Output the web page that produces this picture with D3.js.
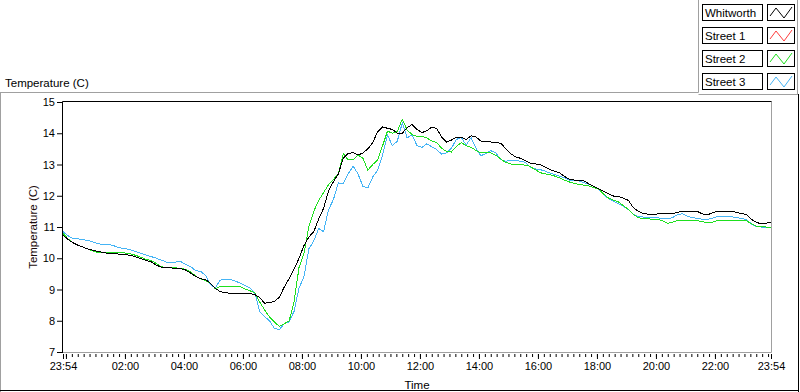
<!DOCTYPE html>
<html>
<head>
<meta charset="utf-8">
<script src="https://cdn.jsdelivr.net/npm/d3@7"></script>
<style>
  body { margin: 0; background: #fff; }
  svg { display: block; font-family: "Liberation Sans", Arial, sans-serif; }
</style>
</head>
<body>
<svg id="chart" width="800" height="392"></svg>
<script>
// minutes after the 23:54 start, one sample every 10 minutes
const offsetsMin = [
  0,10,20,30,40,50,60,70,80,90,100,110,120,130,140,150,160,170,180,190,
  200,210,220,230,240,250,260,270,280,290,300,310,320,330,340,350,360,370,380,390,
  400,410,420,430,440,450,460,470,480,490,500,510,520,530,540,550,560,570,580,590,
  600,610,620,630,640,650,660,670,680,690,700,710,720,730,740,750,760,770,780,790,
  800,810,820,830,840,850,860,870,880,890,900,910,920,930,940,950,960,970,980,990,
  1000,1010,1020,1030,1040,1050,1060,1070,1080,1090,1100,1110,1120,1130,1140,1150,1160,1170,1180,1190,
  1200,1210,1220,1230,1240,1250,1260,1270,1280,1290,1300,1310,1320,1330,1340,1350,1360,1370,1380,1390,
  1400,1410,1420,1430,1440
];

const whitworth = [
  10.75,10.6,10.5,10.42,10.36,10.3,10.26,10.22,10.19,10.16,
  10.15,10.14,10.12,10.11,10.08,10.03,9.98,9.93,9.88,9.78,
  9.71,9.7,9.69,9.68,9.67,9.62,9.52,9.42,9.34,9.32,
  9.2,9.03,8.93,8.9,8.88,8.87,8.87,8.87,8.87,8.84,
  8.74,8.56,8.58,8.62,8.75,9.08,9.35,9.65,10.0,10.4,
  10.68,10.85,11.25,11.6,12.15,12.45,12.7,13.2,13.35,13.38,
  13.3,13.37,13.5,13.7,14.05,14.2,14.16,14.12,14.0,14.0,
  14.18,14.28,14.12,14.02,14.08,14.2,14.15,13.88,13.72,13.78,
  13.88,13.88,13.8,13.92,13.88,13.75,13.75,13.72,13.7,13.68,
  13.52,13.35,13.25,13.2,13.13,13.05,13.02,13.0,12.92,12.84,
  12.78,12.73,12.62,12.53,12.5,12.5,12.47,12.38,12.3,12.22,
  12.14,12.06,11.99,11.97,11.92,11.85,11.62,11.5,11.43,11.41,
  11.4,11.42,11.43,11.42,11.42,11.47,11.5,11.5,11.5,11.5,
  11.42,11.38,11.45,11.5,11.5,11.5,11.5,11.47,11.43,11.4,
  11.25,11.15,11.1,11.12,11.15
];

// Street 1 logged nothing on this day
const street1 = [];

const street2 = [
  10.8,10.62,10.5,10.42,10.36,10.3,10.24,10.19,10.19,10.19,
  10.19,10.19,10.18,10.16,10.13,10.08,10.02,9.96,9.92,9.83,
  9.73,9.69,9.69,9.69,9.68,9.64,9.57,9.42,9.34,9.29,
  9.2,9.02,9.1,9.1,9.1,9.1,9.09,9.02,8.96,8.9,
  8.6,8.35,8.12,7.96,7.82,7.9,8.0,8.6,9.7,10.15,
  11.0,11.5,11.85,12.1,12.35,12.52,12.7,13.35,13.15,13.15,
  13.3,13.2,12.82,13.0,13.15,13.6,14.07,14.0,14.05,14.45,
  14.1,13.96,13.9,13.9,13.85,13.75,13.7,13.52,13.42,13.4,
  13.58,13.7,13.6,13.55,13.45,13.37,13.37,13.37,13.3,13.18,
  13.07,13.02,13.0,13.0,12.98,12.94,12.84,12.74,12.7,12.68,
  12.63,12.57,12.5,12.44,12.4,12.36,12.34,12.31,12.26,12.21,
  12.05,11.92,11.86,11.8,11.68,11.56,11.4,11.3,11.27,11.26,
  11.25,11.24,11.2,11.12,11.16,11.21,11.21,11.21,11.21,11.2,
  11.17,11.14,11.15,11.2,11.21,11.21,11.21,11.21,11.21,11.21,
  11.1,11.03,11.02,11.0,11.0
];

const street3 = [
  10.85,10.72,10.64,10.62,10.6,10.57,10.53,10.47,10.44,10.44,
  10.42,10.36,10.32,10.3,10.26,10.2,10.15,10.1,10.05,10.0,
  9.94,9.88,9.86,9.88,9.89,9.8,9.73,9.6,9.58,9.45,
  9.15,9.06,9.3,9.32,9.32,9.27,9.21,9.13,9.05,8.9,
  8.3,8.13,8.0,7.75,7.72,7.9,7.97,8.3,9.05,9.4,
  10.3,10.55,10.95,10.85,11.55,11.88,12.41,12.4,12.7,12.95,
  12.7,12.3,12.25,12.6,12.82,13.3,13.95,13.6,13.75,14.33,
  13.85,13.95,13.6,13.55,13.66,13.57,13.48,13.33,13.37,13.52,
  13.8,13.87,13.62,13.86,13.52,13.28,13.35,13.44,13.38,13.16,
  13.1,13.14,13.14,13.1,13.07,12.92,12.86,12.84,12.79,12.73,
  12.68,12.63,12.57,12.5,12.49,12.47,12.42,12.37,12.29,12.2,
  12.04,11.9,11.82,11.75,11.66,11.56,11.4,11.33,11.32,11.31,
  11.3,11.29,11.28,11.27,11.3,11.4,11.42,11.35,11.3,11.28,
  11.25,11.24,11.28,11.33,11.35,11.34,11.33,11.3,11.27,11.24,
  11.1,11.02,11.0,10.99,10.98
];

const seriesNames = ["Whitworth", "Street 1", "Street 2", "Street 3"];
const seriesColors = ["#000000", "#ff3c3c", "#1ee01e", "#45b4f5"];
const seriesValues = [whitworth, street1, street2, street3];

const yTicks = [7, 8, 9, 10, 11, 12, 13, 14, 15];
// labelled time ticks (minutes after start) and their text
const majorTicks = [0, 6, 126, 246, 366, 486, 606, 726, 846, 966, 1086, 1206, 1326, 1440];
const majorLabels = ["23:54", "", "02:00", "04:00", "06:00", "08:00", "10:00", "12:00",
                     "14:00", "16:00", "18:00", "20:00", "22:00", "23:54"];

const svg = d3.select("#chart");
const plot = { left: 63, right: 771, top: 102, bottom: 352 };

const x = d3.scaleLinear().domain([0, 1440]).range([plot.left, plot.right]);
const y = d3.scaleLinear().domain([7, 15]).range([plot.bottom, plot.top]);

// outer panel edges
const edge = (x1, y1, x2, y2, c) => svg.append("line")
  .attr("x1", x1).attr("y1", y1).attr("x2", x2).attr("y2", y2)
  .attr("stroke", c).attr("stroke-width", 1);
edge(0, 92.5, 698.5, 92.5, "#a0a0a0");
edge(0.5, 92.5, 0.5, 392, "#a0a0a0");
edge(698.5, 0, 698.5, 92.5, "#a0a0a0");
edge(698.5, 94.5, 798.5, 94.5, "#a0a0a0");
edge(797.5, 0, 797.5, 94.5, "#a0a0a0");
edge(798.5, 94, 798.5, 392, "#000");
edge(0, 390.5, 799, 390.5, "#000");

// plot title top-left
svg.append("text")
  .attr("x", 5).attr("y", 87)
  .attr("font-size", "11.5px")
  .attr("fill", "#000")
  .text("Temperature (C)");

// plot frame
edge(plot.right + 0.5, plot.top - 0.5, plot.right + 0.5, plot.bottom + 0.5, "#a0a0a0");
edge(plot.left, plot.bottom + 0.5, plot.right + 0.5, plot.bottom + 0.5, "#a0a0a0");
edge(plot.left - 0.5, plot.top - 0.5, plot.right + 0.5, plot.top - 0.5, "#000");
edge(plot.left - 0.5, plot.top - 0.5, plot.left - 0.5, plot.bottom + 1, "#000");

// y axis
const yAxis = svg.append("g")
  .attr("transform", `translate(${plot.left - 1},0)`)
  .call(d3.axisLeft(y).tickValues(yTicks).tickSize(5).tickPadding(2));
yAxis.select(".domain").remove();
yAxis.selectAll("text").attr("font-size", "11px").attr("font-family", null).attr("fill", "#000");

// x axis: minor ticks every 12 min from 00:00, then labelled ticks
const xMinor = svg.append("g")
  .attr("transform", `translate(0,${plot.bottom + 2})`)
  .call(d3.axisBottom(x).tickValues(d3.range(6, 1440, 12)).tickSize(3).tickFormat(""));
xMinor.select(".domain").remove();

const xAxis = svg.append("g")
  .attr("transform", `translate(0,${plot.bottom + 2})`)
  .call(d3.axisBottom(x).tickValues(majorTicks).tickSize(5).tickPadding(3)
    .tickFormat((d, i) => majorLabels[i]));
xAxis.select(".domain").remove();
xAxis.selectAll("text").attr("font-size", "11px").attr("font-family", null).attr("fill", "#000");

// axis titles
svg.append("text")
  .attr("transform", `translate(37,${(plot.top + plot.bottom) / 2}) rotate(-90)`)
  .attr("text-anchor", "middle")
  .attr("font-size", "11.5px")
  .attr("fill", "#1a0a0a")
  .text("Temperature (C)");

svg.append("text")
  .attr("x", (plot.left + plot.right) / 2).attr("y", 389)
  .attr("text-anchor", "middle")
  .attr("font-size", "11.5px")
  .attr("fill", "#000")
  .text("Time");

// data lines, clipped to the plot
svg.append("clipPath").attr("id", "plot-clip")
  .append("rect")
  .attr("x", plot.left).attr("y", plot.top)
  .attr("width", plot.right - plot.left + 1).attr("height", plot.bottom - plot.top + 1);

const line = d3.line()
  .defined(d => d != null)
  .x((d, i) => x(offsetsMin[i]))
  .y(d => y(d));

const lines = svg.append("g").attr("clip-path", "url(#plot-clip)");
// draw back to front: Street 3, Street 2, Street 1, Whitworth
[3, 2, 1, 0].forEach(k => {
  if (!seriesValues[k].length) return;
  lines.append("path")
    .datum(seriesValues[k])
    .attr("d", line)
    .attr("fill", "none")
    .attr("stroke", seriesColors[k])
    .attr("stroke-width", 1)
    .attr("shape-rendering", "crispEdges");
});

// legend
const legend = svg.append("g");
seriesNames.forEach((name, i) => {
  const top = 4 + i * 23;
  legend.append("rect")
    .attr("x", 702.5).attr("y", top + 0.5)
    .attr("width", 60).attr("height", 16)
    .attr("fill", "#fff").attr("stroke", "#000");
  legend.append("text")
    .attr("x", 705).attr("y", top + 13)
    .attr("font-size", "11.5px")
    .attr("fill", "#000")
    .text(name);
  legend.append("rect")
    .attr("x", 767.5).attr("y", top + 0.5)
    .attr("width", 27).attr("height", 16)
    .attr("fill", "#fff").attr("stroke", "#000");
  legend.append("path")
    .attr("d", `M${770},${top + 12} L${776},${top + 4} L${784},${top + 14} L${792},${top + 3}`)
    .attr("fill", "none")
    .attr("stroke", seriesColors[i])
    .attr("stroke-width", 1);
});
</script>
</body>
</html>
